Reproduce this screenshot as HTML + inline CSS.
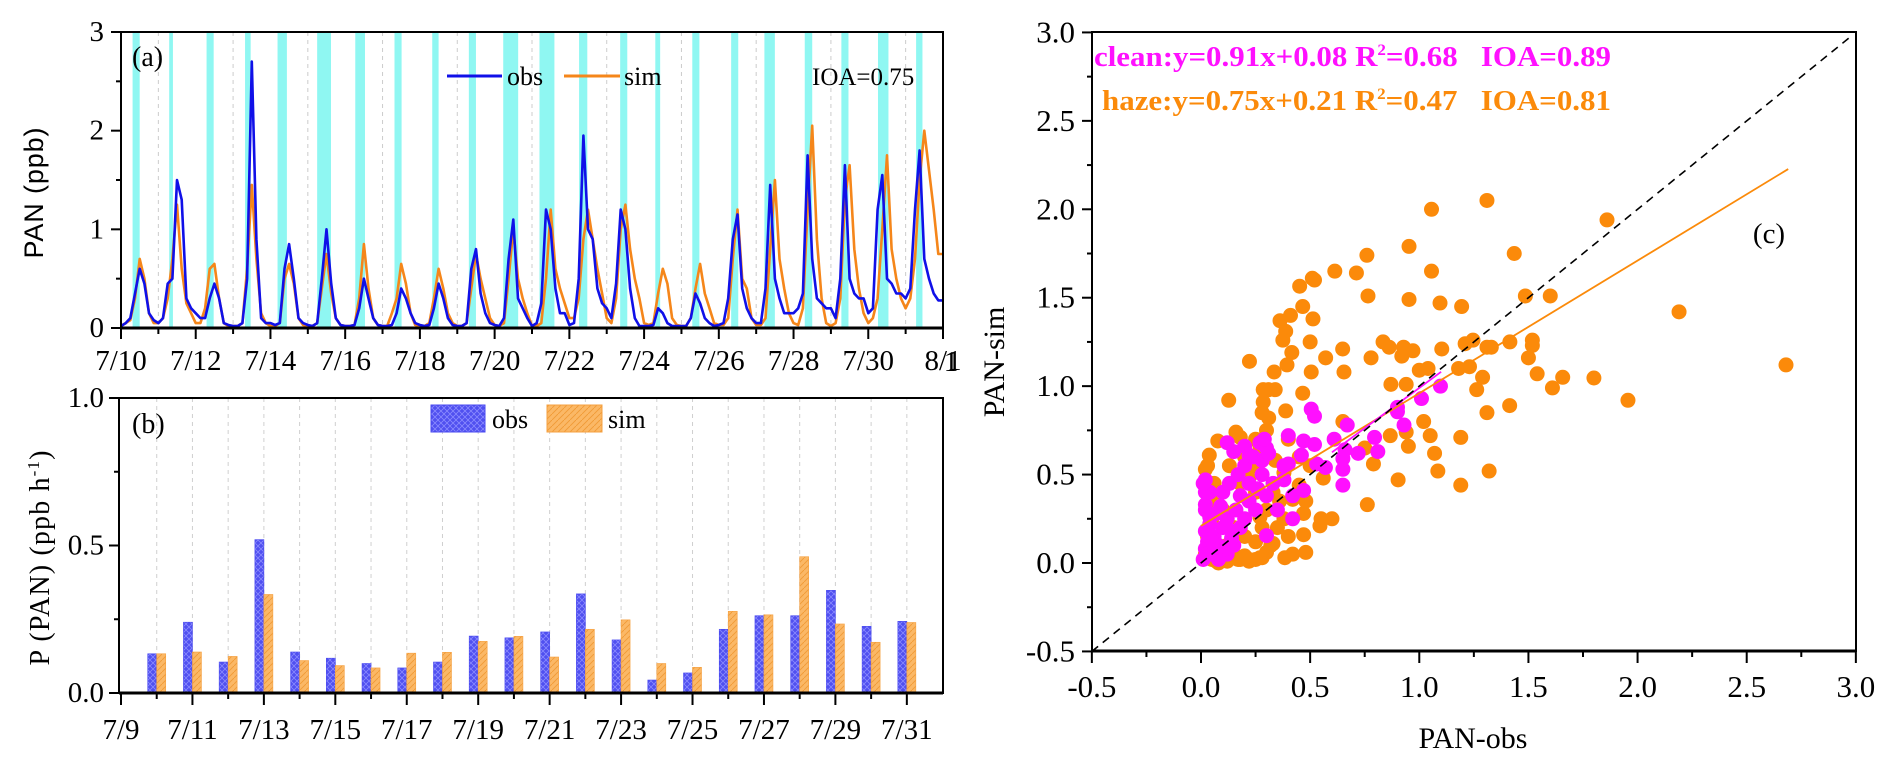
<!DOCTYPE html>
<html><head><meta charset="utf-8"><title>PAN observation vs simulation</title>
<style>
html,body{margin:0;padding:0;background:#fff;}
svg{display:block;font-family:"Liberation Serif","DejaVu Serif",serif;}
</style></head>
<body>
<svg id="chart" width="1892" height="767" viewBox="0 0 1892 767" xmlns="http://www.w3.org/2000/svg">
<defs>
<pattern id="pObs" patternUnits="userSpaceOnUse" width="6" height="6">
<rect width="6" height="6" fill="#5050f0"/>
<path d="M0,0L6,6M6,0L0,6" stroke="#8a8aff" stroke-width="0.8"/>
</pattern>
<pattern id="pSim" patternUnits="userSpaceOnUse" width="6" height="6">
<rect width="6" height="6" fill="#fbb866"/>
<path d="M0,6L6,0" stroke="#f09a35" stroke-width="0.9"/>
</pattern>
</defs>
<g id="ga"></g>
<g id="gb"></g>
<g id="gc"></g>
</svg>
<script>
// ---------- Panel (a) data ----------
const aDayLabels = ["7/10","7/12","7/14","7/16","7/18","7/20","7/22","7/24","7/26","7/28","7/30","8/1"];
const aYTicks = ["0","1","2","3"];
const bandStart = [0.31,1.29,2.29,3.32,4.19,5.25,6.27,7.32,8.33,9.31,10.23,11.2,12.26,13.36,14.3,15.29,16.33,17.22,18.3,19.28,20.26,21.28];
const bandEnd   = [0.5,1.39,2.48,3.47,4.44,5.62,6.53,7.51,8.5,9.5,10.63,11.6,12.48,13.55,14.43,15.48,16.52,17.5,18.5,19.47,20.54,21.45];
// 3-hourly values (0,3,6,...,21h) per day from 7/10 to 7/31, plus 8/1 0h
const obsSeries = [
0.02,0.05,0.1,0.35,0.6,0.45,0.15,0.08,
0.05,0.1,0.45,0.5,1.5,1.3,0.3,0.2,
0.15,0.1,0.1,0.3,0.45,0.3,0.05,0.03,
0.02,0.02,0.05,0.5,2.7,0.9,0.1,0.05,
0.05,0.03,0.05,0.6,0.85,0.5,0.1,0.05,
0.03,0.02,0.05,0.5,1.0,0.45,0.1,0.03,
0.02,0.02,0.03,0.2,0.5,0.3,0.1,0.03,
0.02,0.02,0.03,0.15,0.4,0.3,0.15,0.05,
0.03,0.02,0.03,0.2,0.45,0.3,0.1,0.03,
0.02,0.02,0.05,0.6,0.8,0.35,0.15,0.05,
0.03,0.02,0.1,0.7,1.1,0.3,0.2,0.1,
0.02,0.05,0.25,1.2,1.0,0.4,0.15,0.15,
0.03,0.05,0.5,1.95,1.0,0.9,0.4,0.25,
0.2,0.1,0.45,1.2,1.0,0.4,0.1,0.02,
0.02,0.02,0.03,0.2,0.15,0.05,0.02,0.02,
0.02,0.02,0.1,0.35,0.25,0.1,0.05,0.02,
0.03,0.05,0.3,0.9,1.15,0.4,0.2,0.1,
0.05,0.05,0.4,1.45,0.5,0.3,0.15,0.15,
0.15,0.2,0.35,1.75,0.7,0.3,0.25,0.2,
0.2,0.1,0.5,1.65,0.5,0.35,0.3,0.3,
0.15,0.2,1.2,1.55,0.5,0.45,0.35,0.35,
0.3,0.4,1.2,1.8,0.7,0.5,0.35,0.28,
0.28];
const simSeries = [
0.02,0.05,0.08,0.3,0.7,0.5,0.15,0.05,
0.05,0.1,0.3,0.7,1.25,0.6,0.25,0.15,
0.05,0.05,0.2,0.6,0.65,0.3,0.05,0.02,
0.02,0.02,0.05,0.6,1.45,0.7,0.15,0.05,
0.02,0.02,0.05,0.5,0.65,0.45,0.1,0.03,
0.02,0.02,0.05,0.4,0.75,0.35,0.1,0.03,
0.02,0.02,0.03,0.3,0.85,0.4,0.1,0.03,
0.02,0.02,0.15,0.3,0.65,0.45,0.15,0.03,
0.02,0.02,0.05,0.3,0.6,0.4,0.15,0.05,
0.02,0.02,0.05,0.4,0.75,0.5,0.3,0.1,
0.03,0.02,0.05,0.5,1.0,0.5,0.3,0.15,
0.02,0.02,0.05,0.5,1.2,0.6,0.4,0.25,
0.1,0.1,0.3,0.9,1.2,0.9,0.6,0.35,
0.1,0.05,0.3,1.0,1.25,0.8,0.5,0.3,
0.05,0.03,0.05,0.35,0.6,0.45,0.1,0.03,
0.02,0.02,0.1,0.4,0.65,0.35,0.2,0.05,
0.03,0.03,0.1,0.7,1.2,0.5,0.4,0.1,
0.03,0.03,0.1,0.8,1.5,0.7,0.4,0.15,
0.05,0.03,0.2,1.2,2.05,0.9,0.3,0.05,
0.02,0.05,0.3,1.3,1.65,0.8,0.4,0.15,
0.05,0.1,0.3,1.0,1.75,0.8,0.5,0.3,
0.2,0.3,0.7,1.5,2.0,1.6,1.2,0.75,
0.75];
// ---------- Panel (b) data ----------
const bLabels = ["7/9","7/11","7/13","7/15","7/17","7/19","7/21","7/23","7/25","7/27","7/29","7/31"];
const bYTicks = ["0.0","0.5","1.0"];
const bObs = [0.133,0.24,0.105,0.52,0.139,0.118,0.10,0.085,0.105,0.193,0.187,0.207,0.336,0.18,0.044,0.068,0.216,0.262,0.262,0.348,0.226,0.243];
const bSim = [0.133,0.139,0.124,0.334,0.11,0.093,0.085,0.135,0.138,0.175,0.192,0.122,0.216,0.248,0.10,0.087,0.277,0.265,0.462,0.234,0.172,0.239];
// ---------- Panel (c) data ----------
const cTicks = ["-0.5","0.0","0.5","1.0","1.5","2.0","2.5","3.0"];
const hazeX = [1.31,1.056,1.86,0.953,1.435,0.76,0.613,0.712,1.056,0.51,0.52,0.452,0.765,0.953,1.095,1.194,1.486,1.60,0.466,0.41,0.362,0.513,0.388,0.375,0.50,0.834,0.862,0.928,0.971,1.103,0.649,0.571,0.416,0.222,0.779,0.92,1.415,1.518,1.518,1.5,1.21,1.246,1.31,1.33,1.18,1.23,1.04,2.19,2.68,
1.80,1.657,1.61,1.54,1.956,1.414,1.31,1.263,1.29,1.19,1.07,1.085,1.32,1.19,0.903,0.762,0.79,0.867,0.95,0.94,1.02,1.05,0.87,0.94,1.0,0.75,0.65,0.655,0.505,0.466,0.388,0.335,0.394,0.31,0.34,0.285,0.285,0.31,0.127,0.077,0.18,0.038,0.02,0.55,0.60,0.545,0.56,0.384,0.48,0.47,0.47,0.45,0.42,0.27,0.22,0.17,0.12,0.07,0.33,0.27,0.25,0.22,0.21,0.27,0.16,0.34,0.38,
0.02,0.05,0.08,0.1,0.12,0.15,0.18,0.2,0.22,0.25,0.28,0.3,0.32,0.03,0.05,0.04,0.06,0.03,0.08,0.1,0.15,0.2,0.25,0.28,0.3,0.35,0.38,0.4,0.42,0.33,0.25,0.2,0.18,0.13,0.36,0.3,0.28,0.25,0.4,0.45,0.5,0.48,0.12,0.07];
const hazeY = [2.05,2.0,1.94,1.79,1.75,1.74,1.65,1.64,1.65,1.61,1.6,1.565,1.51,1.49,1.47,1.45,1.51,1.51,1.45,1.40,1.37,1.38,1.31,1.26,1.25,1.25,1.22,1.22,1.2,1.21,1.21,1.16,1.19,1.14,1.16,1.17,1.25,1.26,1.23,1.16,1.24,1.26,1.22,1.22,1.1,1.11,1.1,1.42,1.12,
1.046,1.05,0.99,1.07,0.92,0.89,0.85,0.98,1.05,0.71,0.62,0.52,0.52,0.44,0.47,0.33,0.56,0.72,0.66,0.74,0.8,0.72,1.01,1.01,1.09,0.65,0.80,1.08,1.08,0.96,0.86,1.08,1.12,0.98,0.98,0.98,0.91,0.82,0.92,0.69,0.71,0.61,0.53,0.25,0.25,0.21,0.48,0.03,0.06,0.16,0.28,0.44,0.36,0.03,0.02,0.02,0.01,0.01,0.11,0.26,0.4,0.48,0.61,0.66,0.74,0.58,0.51,
0.05,0.02,0.0,0.03,0.02,0.05,0.02,0.04,0.01,0.02,0.03,0.06,0.1,0.15,0.25,0.35,0.45,0.55,0.4,0.3,0.2,0.15,0.12,0.2,0.3,0.2,0.25,0.15,0.05,0.4,0.55,0.6,0.45,0.55,0.35,0.75,0.85,0.7,0.7,0.6,0.55,0.35,0.1,0.08];
const cleanX = [1.097,1.01,0.90,0.9,0.505,0.52,0.93,0.67,0.795,0.81,0.65,0.66,0.72,0.61,0.65,0.65,0.47,0.40,0.52,0.46,0.40,0.53,0.57,0.47,0.42,0.42,0.38,0.12,0.15,0.02,0.02,0.02,0.2,0.22,0.27,0.30,0.30,
0.01,0.02,0.03,0.02,0.04,0.06,0.08,0.1,0.12,0.05,0.07,0.09,0.14,0.16,0.18,0.2,0.22,0.25,0.12,0.15,0.1,0.13,0.17,0.22,0.26,0.28,0.3,0.33,0.35,0.38,0.2,0.24,0.28,0.31,0.29,0.02,0.04,0.01,0.03,0.06,0.09,0.05,0.11,0.14,0.18,0.08,0.04];
const cleanY = [1.0,0.93,0.855,0.88,0.87,0.83,0.78,0.78,0.71,0.63,0.59,0.64,0.62,0.70,0.53,0.44,0.69,0.72,0.67,0.61,0.56,0.56,0.54,0.41,0.38,0.25,0.47,0.68,0.63,0.47,0.33,0.40,0.66,0.61,0.68,0.65,0.155,
0.02,0.08,0.12,0.18,0.22,0.15,0.1,0.2,0.25,0.05,0.28,0.32,0.18,0.3,0.38,0.25,0.35,0.3,0.05,0.1,0.4,0.45,0.5,0.45,0.42,0.5,0.38,0.45,0.3,0.55,0.55,0.6,0.58,0.62,0.7,0.3,0.4,0.45,0.05,0.06,0.04,0.12,0.08,0.14,0.2,0.02,0.26];

// ---------- helpers ----------
const NS = "http://www.w3.org/2000/svg";
function el(parent, tag, attrs){
  const e = document.createElementNS(NS, tag);
  for (const k in attrs) e.setAttribute(k, attrs[k]);
  parent.appendChild(e);
  return e;
}
function txt(parent, x, y, s, size, anchor, sx, extra){
  const t = document.createElementNS(NS, "text");
  t.setAttribute("transform", "translate(" + x + "," + y + ") scale(" + sx + ",1)");
  t.setAttribute("font-size", size);
  t.setAttribute("text-anchor", anchor);
  if (extra) for (const k in extra) t.setAttribute(k, extra[k]);
  t.textContent = s;
  parent.appendChild(t);
  return t;
}

// ---------- Panel (a) ----------
const ga = document.getElementById("ga");
const aL = 121, aR = 943, aT = 32, aB = 328;
const xa = d => aL + d * (aR - aL) / 22;
const ya = v => aB - v * (aB - aT) / 3;
for (let i = 0; i < bandStart.length; i++) {
  const r = el(ga, "rect", {x: xa(bandStart[i]), y: aT, width: xa(bandEnd[i]) - xa(bandStart[i]), height: aB - aT, fill: "#8ff7f2"});
  
  
}
for (let d = 1; d < 22; d += 2) {
  const g = el(ga, "line", {x1: xa(d), x2: xa(d), y1: aT, y2: aB, stroke: "#cccccc", "stroke-width": 1, "stroke-dasharray": "4,4"});
  
  
}
function seriesPath(vals){
  let p = "";
  for (let i = 0; i < vals.length; i++) {
    p += (i ? "L" : "M") + xa(i / 8).toFixed(1) + "," + ya(vals[i]).toFixed(1);
  }
  return p;
}
const simLine = el(ga, "path", {d: seriesPath(simSeries), fill: "none", stroke: "#f5861a", "stroke-width": 2.6, "stroke-linejoin": "round"});


const obsLine = el(ga, "path", {d: seriesPath(obsSeries), fill: "none", stroke: "#1010e8", "stroke-width": 2.6, "stroke-linejoin": "round"});


const aFrame = el(ga, "rect", {x: aL, y: aT, width: aR - aL, height: aB - aT, fill: "none", stroke: "#000", "stroke-width": 2});


el(ga, "line", {x1: aL, x2: aR, y1: aB, y2: aB, stroke: "#000", "stroke-width": 3});
for (let d = 0; d <= 22; d++) {
  el(ga, "line", {x1: xa(d), x2: xa(d), y1: aB, y2: aB + (d % 2 ? 6 : 11), stroke: "#000", "stroke-width": 2});
}
aDayLabels.forEach((s, i) => {
  const t = txt(ga, xa(i * 2), 370, s, 29, "middle", 1);
  
  
});
for (let v = 0; v <= 3; v += 0.5) {
  el(ga, "line", {x1: aL, x2: aL - (v % 1 ? 5 : 10), y1: ya(v), y2: ya(v), stroke: "#000", "stroke-width": 2});
}
aYTicks.forEach((s, i) => {
  const t = txt(ga, 104, ya(+s) + 9, s, 29, "end", 1);
  
  
});
{
  const t = txt(ga, 0, 0, "PAN (ppb)", 27, "middle", 1, {"font-family": "Liberation Sans, sans-serif", "textLength": 131});
  t.setAttribute("transform", "translate(43,193) rotate(-90)");
  
  
}
{
  const t = txt(ga, 132, 66, "(a)", 28, "start", 1);
  
  
}
{
  const l1 = el(ga, "line", {x1: 447, x2: 502, y1: 76, y2: 76, stroke: "#1010e8", "stroke-width": 3});
  
  
  const t1 = txt(ga, 507, 85, "obs", 26, "start", 1);
  
  
  const l2 = el(ga, "line", {x1: 564, x2: 620, y1: 76, y2: 76, stroke: "#f5861a", "stroke-width": 3});
  
  
  const t2 = txt(ga, 624, 85, "sim", 26, "start", 1);
  
  
  const t3 = txt(ga, 812, 85, "IOA=0.75", 25, "start", 1);
  
  
}

// ---------- Panel (b) ----------
const gb = document.getElementById("gb");
const bL = 119, bR = 943, bT = 398, bB = 693, bX0 = 121, bDay = 35.72;
const xb = d => bX0 + d * bDay;
const yb = v => bB - v * (bB - bT);
for (let d = 1; d <= 22; d++) {
  const g = el(gb, "line", {x1: xb(d), x2: xb(d), y1: bT, y2: bB, stroke: "#d0d0d0", "stroke-width": 1, "stroke-dasharray": "4,4"});
  
  
}
bObs.forEach((v, i) => {
  const r = el(gb, "rect", {x: xb(i + 1) - 9, y: yb(v), width: 9, height: bB - yb(v), fill: "url(#pObs)", stroke: "#4a4af0", "stroke-width": 0.6});
  
  
});
bSim.forEach((v, i) => {
  const r = el(gb, "rect", {x: xb(i + 1), y: yb(v), width: 9, height: bB - yb(v), fill: "url(#pSim)", stroke: "#f5a040", "stroke-width": 0.6});
  
  
});
const bFrame = el(gb, "rect", {x: bL, y: bT, width: bR - bL, height: bB - bT, fill: "none", stroke: "#000", "stroke-width": 2});


el(gb, "line", {x1: bL, x2: bR, y1: bB, y2: bB, stroke: "#000", "stroke-width": 3});
for (let d = 0; d <= 22; d++) {
  el(gb, "line", {x1: xb(d), x2: xb(d), y1: bB, y2: bB + (d % 2 ? 6 : 12), stroke: "#000", "stroke-width": 2});
}
bLabels.forEach((s, i) => {
  const t = txt(gb, xb(i * 2), 739, s, 29, "middle", 1);
  
  
});
for (let v = 0; v <= 1.0001; v += 0.25) {
  el(gb, "line", {x1: bL, x2: bL - (Math.round(v * 4) % 2 ? 5 : 10), y1: yb(v), y2: yb(v), stroke: "#000", "stroke-width": 2});
}
bYTicks.forEach(s => {
  const t = txt(gb, 104, yb(+s) + 9, s, 29, "end", 1);
  
  
});
{
  const t = document.createElementNS(NS, "text");
  t.setAttribute("transform", "translate(49,558) rotate(-90)");
  t.setAttribute("font-size", 28);
  t.setAttribute("text-anchor", "middle");
  t.setAttribute("textLength", 215);
  t.innerHTML = 'P (PAN) (ppb h<tspan dy="-10" font-size="17">-1</tspan><tspan dy="10">)</tspan>';
  
  
  gb.appendChild(t);
}
{
  const t = txt(gb, 132, 433, "(b)", 28, "start", 1);
  
  
  const r1 = el(gb, "rect", {x: 431, y: 405, width: 54, height: 27, fill: "url(#pObs)", stroke: "#4a4af0"});
  
  
  const t1 = txt(gb, 492, 428, "obs", 26, "start", 1);
  
  
  const r2 = el(gb, "rect", {x: 547, y: 405, width: 55, height: 27, fill: "url(#pSim)", stroke: "#f5a040"});
  
  
  const t2 = txt(gb, 608, 428, "sim", 26, "start", 1);
  
  
}

// ---------- Panel (c) ----------
const gc = document.getElementById("gc");
const cL = 1092, cR = 1856, cT = 32, cB = 651;
const xc = v => 1201 + v * (cR - cL) / 3.5;
const yc = v => 563 - v * (cB - cT) / 3.5;
hazeX.forEach((x, i) => {
  const c = el(gc, "circle", {cx: xc(x), cy: yc(hazeY[i]), r: 7.5, fill: "#fb8a0a"});
  
  
});
cleanX.forEach((x, i) => {
  const c = el(gc, "circle", {cx: xc(x), cy: yc(cleanY[i]), r: 7.5, fill: "#ff10ff"});
  
  
});
{
  const f1 = el(gc, "line", {x1: xc(0), y1: yc(0.21), x2: xc(2.69), y2: yc(0.75 * 2.69 + 0.21), stroke: "#fb8a0a", "stroke-width": 1.8});
  
  
  const f2 = el(gc, "line", {x1: xc(0.6), y1: yc(0.91 * 0.6 + 0.08), x2: xc(1.1), y2: yc(0.91 * 1.1 + 0.08), stroke: "#ff10ff", "stroke-width": 1.8});
  
  
  const d = el(gc, "line", {x1: xc(-0.5), y1: yc(-0.5), x2: xc(2.97), y2: yc(2.97), stroke: "#000", "stroke-width": 1.6, "stroke-dasharray": "8,6"});
  
  
}
const cFrame = el(gc, "rect", {x: cL, y: cT, width: cR - cL, height: cB - cT, fill: "none", stroke: "#000", "stroke-width": 2});


el(gc, "line", {x1: cL, x2: cR, y1: cB, y2: cB, stroke: "#000", "stroke-width": 3});
for (let k = 0; k <= 14; k++) {
  const v = -0.5 + k * 0.25;
  el(gc, "line", {x1: xc(v), x2: xc(v), y1: cB, y2: cB + (k % 2 ? 6 : 12), stroke: "#000", "stroke-width": 2});
  el(gc, "line", {x1: cL, x2: cL - (k % 2 ? 5 : 10), y1: yc(v), y2: yc(v), stroke: "#000", "stroke-width": 2});
}
cTicks.forEach(s => {
  const t1 = txt(gc, xc(+s), 697, s, 31, "middle", 1);
  
  
  const t2 = txt(gc, 1075, yc(+s) + 10, s, 31, "end", 1);
  
  
});
{
  const t = txt(gc, 1473, 748, "PAN-obs", 30, "middle", 1);
  
  
  const y = txt(gc, 0, 0, "PAN-sim", 30, "middle", 1);
  y.setAttribute("transform", "translate(1004,362) rotate(-90)");
  
  
  const one = txt(gc, 951, 371, "1", 29, "middle", 1);
  
  
  const pc = txt(gc, 1769, 243, "(c)", 29, "middle", 1);
  
  
}
function eqText(y, color, a, b, c, name){
  const t = document.createElementNS(NS, "text");
  t.setAttribute("x", name === "clean-equation" ? 1094 : 1102);
  t.setAttribute("y", y);
  t.setAttribute("font-size", 29);
  t.setAttribute("font-weight", "bold");
  t.setAttribute("fill", color);
  t.setAttribute("textLength", name === "clean-equation" ? 517 : 509);
  t.setAttribute("lengthAdjust", "spacingAndGlyphs");
  t.innerHTML = a + 'R<tspan dy="-11" font-size="16">2</tspan><tspan dy="11">' + b + '</tspan>' + '<tspan>' + c + '</tspan>';
  
  
  gc.appendChild(t);
}
eqText(66, "#ff10ff", "clean:y=0.91x+0.08 ", "=0.68", "\u00a0\u00a0\u00a0IOA=0.89", "clean-equation");
eqText(110, "#fb8a0a", "haze:y=0.75x+0.21 ", "=0.47", "\u00a0\u00a0\u00a0IOA=0.81", "haze-equation");
</script>
</body></html>
